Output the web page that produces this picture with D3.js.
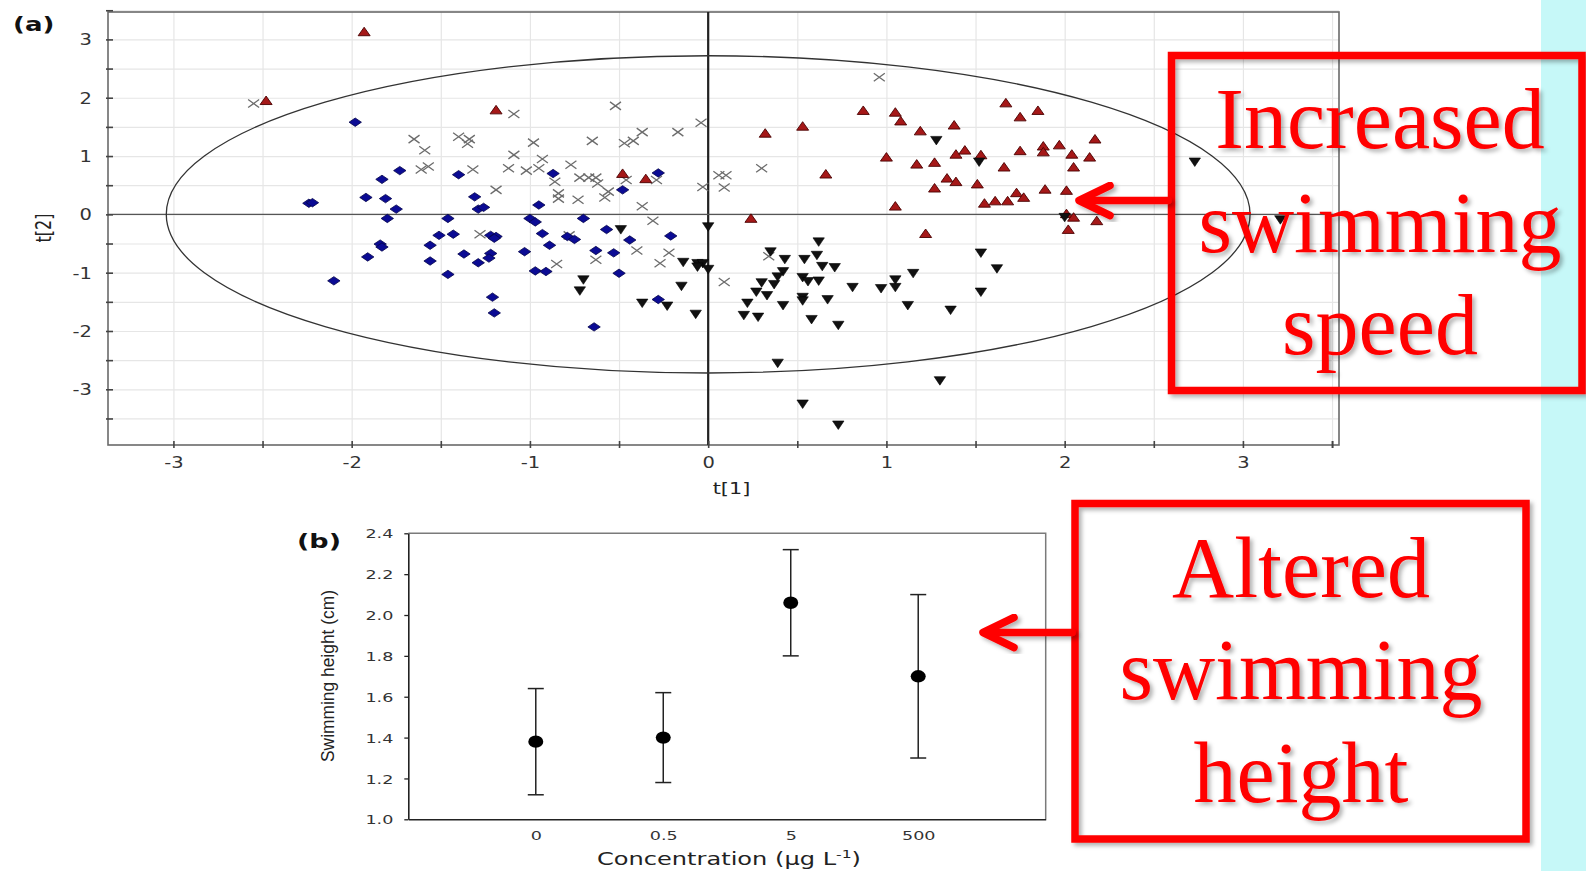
<!DOCTYPE html>
<html>
<head>
<meta charset="utf-8">
<script src="https://cdn.jsdelivr.net/npm/d3@7"></script>
<style>
  body { margin: 0; background: #fff; overflow: hidden; }
  svg { font-family: "DejaVu Sans", Verdana, sans-serif; }
</style>
</head>
<body>
<svg id="chart" width="1586" height="871"></svg>
<script>
// ---- data: panel (a) score plot, t[1] vs t[2] ----
const blueDiamonds = [
  [-1.98, 1.58], [-2.24, 0.19], [-2.22, 0.20], [-1.73, 0.75], [-1.83, 0.60], [-1.92, 0.29],
  [-1.81, 0.27], [-1.75, 0.09], [-1.80, -0.07], [-1.40, 0.68], [-1.31, 0.30], [-1.29, 0.09],
  [-1.26, 0.12], [-1.46, -0.07], [-1.51, -0.36], [-1.43, -0.34], [-1.84, -0.51], [-1.83, -0.56],
  [-1.91, -0.73], [-1.56, -0.53], [-1.56, -0.80], [-1.37, -0.68], [-1.29, -0.83], [-1.22, -0.67],
  [-1.23, -0.75], [-1.22, -0.36], [-1.19, -0.38], [-1.20, -0.41], [-1.46, -1.03], [-2.10, -1.14],
  [-1.21, -1.42], [-1.20, -1.69], [-0.95, 0.16], [-0.87, 0.70], [-1.00, -0.07], [-0.97, -0.13],
  [-0.93, -0.33], [-0.79, -0.38], [-0.75, -0.43], [-0.89, -0.53], [-1.03, -0.64], [-0.97, -0.97],
  [-0.91, -0.98], [-0.70, -0.07], [-0.57, -0.26], [-0.63, -0.62], [-0.53, -0.66], [-0.44, -0.44],
  [-0.50, -1.01], [-0.48, 0.42], [-0.28, 0.71], [-0.21, -0.37], [-0.28, -1.46], [-0.64, -1.93]
];
const greyCrosses = [
  [-2.55, 1.90], [-1.09, 1.72], [-0.52, 1.86], [-0.04, 1.57], [-1.65, 1.29], [-1.59, 1.10],
  [-1.40, 1.33], [-1.34, 1.29], [-1.35, 1.21], [-0.98, 1.23], [-1.09, 1.02], [-0.93, 0.95],
  [-0.65, 1.26], [-0.47, 1.22], [-0.42, 1.26], [-0.37, 1.41], [-0.17, 1.41], [-1.61, 0.77],
  [-1.57, 0.82], [-1.32, 0.77], [-1.12, 0.79], [-1.02, 0.75], [-0.95, 0.79], [-0.77, 0.85],
  [-0.86, 0.56], [-0.84, 0.36], [-0.84, 0.27], [-0.72, 0.63], [-0.67, 0.63], [-0.63, 0.63],
  [-0.62, 0.53], [-0.56, 0.39], [-0.58, 0.29], [-0.73, 0.25], [-0.46, 0.59], [-0.29, 0.59],
  [-0.37, 0.14], [-0.03, 0.47], [-1.19, 0.42], [-0.31, -0.11], [-1.28, -0.34], [-0.78, -0.36],
  [-0.85, -0.85], [-0.63, -0.78], [-0.40, -0.62], [-0.27, -0.84], [-0.22, -0.66], [0.06, 0.67],
  [0.10, 0.67], [0.09, 0.46], [0.30, 0.79], [0.34, -0.72], [0.09, -1.16], [0.96, 2.35]
];
const redTriangles = [
  [-1.93, 3.13], [-2.48, 1.95], [-1.19, 1.79], [-0.48, 0.70], [-0.35, 0.61], [0.24, -0.07],
  [0.32, 1.39], [0.53, 1.51], [0.66, 0.69], [0.87, 1.78], [1.05, 1.75], [1.08, 1.60],
  [1.19, 1.43], [1.38, 1.53], [1.00, 0.98], [1.17, 0.86], [1.27, 0.89], [1.39, 1.03],
  [1.44, 1.10], [1.34, 0.62], [1.39, 0.56], [1.27, 0.45], [1.05, 0.14], [1.22, -0.33],
  [1.51, 0.52], [1.53, 1.02], [1.55, 0.19], [1.61, 0.23], [1.68, 0.23], [1.73, 0.37],
  [1.77, 0.29], [1.67, 1.91], [1.75, 1.67], [1.85, 1.78], [1.66, 0.81], [1.75, 1.09],
  [1.88, 1.17], [1.88, 1.07], [1.97, 1.19], [2.04, 1.03], [2.05, 0.81], [2.14, 0.98],
  [2.17, 1.29], [1.89, 0.43], [2.01, 0.41], [2.01, 0.01], [2.05, -0.05], [2.02, -0.26],
  [2.18, -0.11]
];
const blackTriangles = [
  [1.28, 1.27], [1.52, 0.90], [2.73, 0.90], [3.21, -0.09], [2.00, -0.05], [0.00, -0.21],
  [-0.49, -0.26], [0.62, -0.47], [1.53, -0.66], [1.62, -0.93], [1.15, -1.01], [1.05, -1.12],
  [0.97, -1.27], [1.05, -1.25], [0.81, -1.25], [1.53, -1.33], [1.12, -1.56], [1.36, -1.64],
  [0.39, -2.55], [1.30, -2.85], [0.53, -3.25], [0.73, -3.61], [0.35, -0.64], [0.43, -0.77],
  [0.54, -0.77], [0.61, -0.70], [0.64, -0.89], [0.71, -0.91], [0.42, -0.98], [0.39, -1.07],
  [0.53, -1.08], [0.56, -1.15], [0.62, -1.14], [0.30, -1.17], [0.37, -1.20], [0.27, -1.33],
  [0.33, -1.39], [0.22, -1.52], [0.42, -1.56], [0.53, -1.42], [0.53, -1.48], [0.67, -1.46],
  [0.20, -1.73], [0.28, -1.76], [0.58, -1.80], [0.73, -1.90], [-0.07, -1.71], [-0.14, -0.82],
  [-0.06, -0.84], [-0.03, -0.84], [-0.06, -0.90], [0.00, -0.94], [-0.70, -1.12], [-0.72, -1.31],
  [-0.15, -1.23], [-0.37, -1.52], [-0.23, -1.57]
];
// Hotelling ellipse half-axes (in t units)
const ellipseRx = 3.04;
const ellipseRy = 2.72;
const scatterXTicks = [-3, -2, -1, 0, 1, 2, 3];
const scatterYTicks = [-3, -2, -1, 0, 1, 2, 3];

// ---- data: panel (b) swimming height ----
const concentrations = ['0', '0.5', '5', '500'];
const heightMean = [1.38, 1.40, 2.06, 1.70];
const heightUpper = [1.64, 1.62, 2.32, 2.10];
const heightLower = [1.12, 1.18, 1.80, 1.30];
const heightTicks = [1.0, 1.2, 1.4, 1.6, 1.8, 2.0, 2.2, 2.4];

// ---- callouts ----
const speedLines = ['Increased', 'swimming', 'speed'];
const heightLines = ['Altered', 'swimming', 'height'];

const svg = d3.select('#chart');
const STRETCH = 1.3; // the source figure is stretched sideways
const SERIF = '"Liberation Serif", "Times New Roman", serif';
const NARROW = '"Liberation Sans Narrow", "Arial Narrow", "Liberation Sans", Arial, sans-serif';

// drop shadow for the red callouts
const defs = svg.append('defs');
defs.append('filter').attr('id', 'shadow')
  .attr('x', '-10%').attr('y', '-10%').attr('width', '130%').attr('height', '130%')
  .append('feDropShadow')
  .attr('dx', 3).attr('dy', 3).attr('stdDeviation', 2)
  .attr('flood-color', '#000').attr('flood-opacity', 0.3);

// ================= panel (a) =================
const A = { left: 108, right: 1339, top: 12, bottom: 445 };
const xA = d3.scaleLinear().domain([-3.367, 3.539]).range([A.left, A.right]);
const yA = d3.scaleLinear().domain([-3.955, 3.47]).range([A.bottom, A.top]);
const halfTicksX = d3.range(-3, 3.6, 0.5);
const halfTicksY = d3.range(-3.5, 3.6, 0.5);

const gA = svg.append('g');

// grid
gA.append('g')
  .attr('transform', `translate(0,${A.bottom})`)
  .call(d3.axisBottom(xA).tickValues(halfTicksX).tickSize(-(A.bottom - A.top)).tickFormat(''))
  .call(g => g.select('.domain').remove())
  .selectAll('line').attr('stroke', '#e6e6e6').attr('stroke-width', 1.2);
gA.append('g')
  .attr('transform', `translate(${A.left},0)`)
  .call(d3.axisLeft(yA).tickValues(halfTicksY).tickSize(-(A.right - A.left)).tickFormat(''))
  .call(g => g.select('.domain').remove())
  .selectAll('line').attr('stroke', '#e6e6e6').attr('stroke-width', 1.2);

// frame
gA.append('rect')
  .attr('x', A.left).attr('y', A.top)
  .attr('width', A.right - A.left).attr('height', A.bottom - A.top)
  .attr('fill', 'none').attr('stroke', '#6a6a6a').attr('stroke-width', 1.6);

// zero lines
gA.append('line')
  .attr('x1', xA(0)).attr('x2', xA(0)).attr('y1', A.top).attr('y2', A.bottom)
  .attr('stroke', '#222').attr('stroke-width', 2.2);
gA.append('line')
  .attr('x1', A.left).attr('x2', A.right).attr('y1', yA(0)).attr('y2', yA(0))
  .attr('stroke', '#555').attr('stroke-width', 1.3);

// ellipse
gA.append('ellipse')
  .attr('cx', xA(0)).attr('cy', yA(0))
  .attr('rx', xA(ellipseRx) - xA(0)).attr('ry', yA(0) - yA(ellipseRy))
  .attr('fill', 'none').attr('stroke', '#333').attr('stroke-width', 1.3);

// axes with ticks and labels
const xAxisA = gA.append('g')
  .attr('transform', `translate(0,${A.bottom})`)
  .call(d3.axisBottom(xA).tickValues(halfTicksX.concat([3.5])).tickSize(-4).tickSizeOuter(0)
    .tickFormat(d => scatterXTicks.includes(d) ? String(d) : ''));
xAxisA.select('.domain').remove();
xAxisA.selectAll('line').attr('stroke', '#444').attr('stroke-width', 1.6).attr('y1', 3);
xAxisA.selectAll('text')
  .attr('y', 23).attr('dy', null)
  .attr('transform', `scale(${STRETCH},1)`)
  .attr('font-size', 15).attr('fill', '#333');

const yAxisA = gA.append('g')
  .attr('transform', `translate(${A.left},0)`)
  .call(d3.axisLeft(yA).tickValues(halfTicksY).tickSize(-5).tickSizeOuter(0)
    .tickFormat(d => scatterYTicks.includes(d) ? String(d) : ''));
yAxisA.select('.domain').remove();
yAxisA.selectAll('line').attr('stroke', '#444').attr('stroke-width', 1.6).attr('x1', -2);
yAxisA.selectAll('text')
  .attr('x', -16 / STRETCH).attr('dy', '0.36em')
  .attr('transform', `scale(${STRETCH},1)`)
  .attr('font-size', 15).attr('fill', '#333');
[xAxisA, yAxisA].forEach(g => g.attr('font-family', null));

// axis titles
gA.append('text')
  .attr('transform', `translate(${(A.left + A.right) / 2 + 8},494) scale(${STRETCH},1)`)
  .attr('text-anchor', 'middle').attr('font-size', 16).attr('fill', '#222')
  .text('t[1]');
gA.append('text')
  .attr('transform', `translate(51,228) scale(${STRETCH},1) rotate(-90)`)
  .attr('text-anchor', 'middle').attr('font-size', 16).attr('fill', '#222')
  .text('t[2]');
gA.append('text')
  .attr('transform', `translate(13,31) scale(${STRETCH},1)`)
  .attr('font-size', 20).attr('font-weight', 'bold').attr('fill', '#111')
  .text('(a)');

// markers
const diamondPath = 'M0,-4.2L6.2,0L0,4.2L-6.2,0Z';
const upPath = 'M0,-4.6L6,3.9L-6,3.9Z';
const downPath = 'M0,4.6L5.7,-3.9L-5.7,-3.9Z';
const crossPath = 'M-5.5,-4L5.5,4M-5.5,4L5.5,-4';

const pts = gA.append('g');
pts.selectAll('path.cross').data(greyCrosses).enter().append('path')
  .attr('class', 'cross').attr('d', crossPath)
  .attr('transform', d => `translate(${xA(d[0])},${yA(d[1])})`)
  .attr('fill', 'none').attr('stroke', '#6c6c6c').attr('stroke-width', 1.3);
pts.selectAll('path.diamond').data(blueDiamonds).enter().append('path')
  .attr('class', 'diamond').attr('d', diamondPath)
  .attr('transform', d => `translate(${xA(d[0])},${yA(d[1])})`)
  .attr('fill', '#0b0b94').attr('stroke', '#05054a').attr('stroke-width', 0.8);
pts.selectAll('path.up').data(redTriangles).enter().append('path')
  .attr('class', 'up').attr('d', upPath)
  .attr('transform', d => `translate(${xA(d[0])},${yA(d[1])})`)
  .attr('fill', '#a51818').attr('stroke', '#4a0000').attr('stroke-width', 0.9);
pts.selectAll('path.down').data(blackTriangles).enter().append('path')
  .attr('class', 'down').attr('d', downPath)
  .attr('transform', d => `translate(${xA(d[0])},${yA(d[1])})`)
  .attr('fill', '#111').attr('stroke', '#000').attr('stroke-width', 0.6);

// ================= panel (b) =================
const B = { left: 408.3, right: 1045.7, top: 533.3, bottom: 819.3 };
const xB = d3.scalePoint().domain(concentrations).range([B.left, B.right]).padding(1);
const yB = d3.scaleLinear().domain([1.0, 2.4]).range([B.bottom, B.top]);
const gB = svg.append('g');

// top and right frame
gB.append('path')
  .attr('d', `M${B.left},${B.top}H${B.right}V${B.bottom}`)
  .attr('fill', 'none').attr('stroke', '#7a7a7a').attr('stroke-width', 1.5);

const yAxisB = gB.append('g')
  .attr('transform', `translate(${B.left},0)`)
  .call(d3.axisLeft(yB).tickValues(heightTicks).tickSize(4).tickSizeOuter(0).tickFormat(d3.format('.1f')));
yAxisB.select('.domain').attr('stroke', '#222').attr('stroke-width', 1.6);
yAxisB.selectAll('line').attr('stroke', '#222').attr('stroke-width', 1.3);
yAxisB.selectAll('text')
  .attr('x', -15 / 1.35).attr('dy', '0.36em')
  .attr('transform', 'scale(1.35,1)')
  .attr('font-size', 13).attr('fill', '#333');

const xAxisB = gB.append('g')
  .attr('transform', `translate(0,${B.bottom})`)
  .call(d3.axisBottom(xB).tickSize(0).tickSizeOuter(0));
xAxisB.select('.domain').attr('stroke', '#222').attr('stroke-width', 1.6);
xAxisB.selectAll('text')
  .attr('y', 21).attr('dy', null)
  .attr('transform', 'scale(1.35,1)')
  .attr('font-size', 13).attr('fill', '#333');
[yAxisB, xAxisB].forEach(g => g.attr('font-family', null));

// error bars and means
const bars = gB.selectAll('g.bar').data(concentrations).enter().append('g').attr('class', 'bar');
bars.append('line')
  .attr('x1', d => xB(d)).attr('x2', d => xB(d))
  .attr('y1', (d, i) => yB(heightUpper[i])).attr('y2', (d, i) => yB(heightLower[i]))
  .attr('stroke', '#222').attr('stroke-width', 1.5);
bars.append('line')
  .attr('x1', d => xB(d) - 8).attr('x2', d => xB(d) + 8)
  .attr('y1', (d, i) => yB(heightUpper[i])).attr('y2', (d, i) => yB(heightUpper[i]))
  .attr('stroke', '#222').attr('stroke-width', 1.5);
bars.append('line')
  .attr('x1', d => xB(d) - 8).attr('x2', d => xB(d) + 8)
  .attr('y1', (d, i) => yB(heightLower[i])).attr('y2', (d, i) => yB(heightLower[i]))
  .attr('stroke', '#222').attr('stroke-width', 1.5);
bars.append('ellipse')
  .attr('cx', d => xB(d)).attr('cy', (d, i) => yB(heightMean[i]))
  .attr('rx', 7.5).attr('ry', 6.2).attr('fill', '#000');

// titles
gB.append('text')
  .attr('transform', 'translate(334,676) rotate(-90)')
  .attr('text-anchor', 'middle')
  .style('font-family', NARROW)
  .attr('font-size', 18).attr('fill', '#222')
  .attr('textLength', 172).attr('lengthAdjust', 'spacingAndGlyphs')
  .text('Swimming height (cm)');
const concTitle = gB.append('text')
  .attr('x', 729).attr('y', 865)
  .attr('text-anchor', 'middle').attr('font-size', 17).attr('fill', '#222')
  .attr('textLength', 264).attr('lengthAdjust', 'spacingAndGlyphs');
concTitle.append('tspan').text('Concentration (μg L');
concTitle.append('tspan').attr('font-size', 11).attr('dy', -7).text('-1');
concTitle.append('tspan').attr('dy', 7).text(')');
gB.append('text')
  .attr('transform', 'translate(297,548) scale(1.35,1)')
  .attr('font-size', 20).attr('font-weight', 'bold').attr('fill', '#111')
  .text('(b)');

// ================= callouts =================
svg.append('rect')
  .attr('x', 1541).attr('y', 0).attr('width', 45).attr('height', 871)
  .attr('fill', '#c6f8f8');

function callout(box, lines, cx, baselines) {
  const g = svg.append('g').attr('filter', 'url(#shadow)');
  g.append('rect')
    .attr('x', box.x).attr('y', box.y).attr('width', box.w).attr('height', box.h)
    .attr('fill', 'none').attr('stroke', '#ff0000').attr('stroke-width', 7.5);
  g.selectAll('text').data(lines).enter().append('text')
    .attr('x', cx).attr('y', (d, i) => baselines[i])
    .attr('text-anchor', 'middle')
    .style('font-family', SERIF)
    .attr('font-size', 86).attr('fill', '#ff0000')
    .text(d => d);
  return g;
}
function arrow(x0, tipX, y) {
  const g = svg.append('g').attr('filter', 'url(#shadow)')
    .attr('fill', 'none').attr('stroke', '#ff0000').attr('stroke-width', 7.5)
    .attr('stroke-linecap', 'round').attr('stroke-linejoin', 'round');
  g.append('line').attr('x1', x0).attr('x2', tipX + 3).attr('y1', y).attr('y2', y);
  g.append('path').attr('d', `M${tipX + 31},${y - 15}L${tipX},${y}L${tipX + 31},${y + 15}`);
}

callout({ x: 1171.5, y: 55.5, w: 410.5, h: 335 }, speedLines, 1380, [148, 252, 354]);
arrow(1168, 1079, 200.5);
callout({ x: 1075, y: 503.5, w: 451, h: 335.5 }, heightLines, 1301, [597, 699, 802]);
arrow(1072, 983, 632.5);
</script>
</body>
</html>
